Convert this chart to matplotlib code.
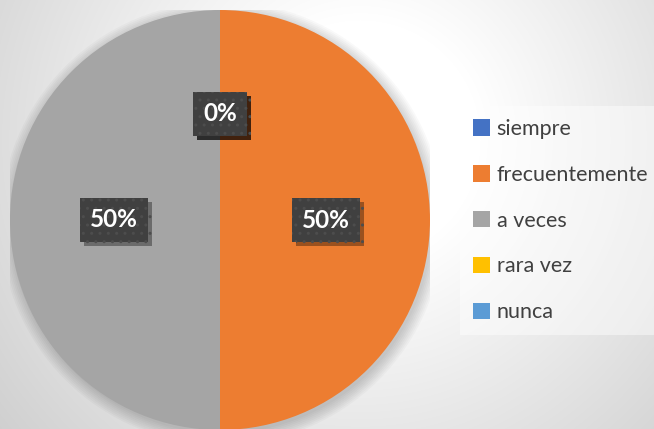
import numpy as np
import matplotlib
matplotlib.use("Agg")
import matplotlib.pyplot as plt
import matplotlib.patheffects as pe
from matplotlib.patches import Patch, Circle

# data
categories = ["siempre", "frecuentemente", "a veces", "rara vez", "nunca"]
values = [0, 50, 50, 0, 0]
colors = ["#4472C4", "#ED7D31", "#A5A5A5", "#FFC000", "#5B9BD5"]

plt.rcParams["font.family"] = ["Lato", "DejaVu Sans"]

W, H = 654, 429
fig = plt.figure(figsize=(W / 100, H / 100), dpi=100)

# soft radial background
bg = fig.add_axes([0, 0, 1, 1], zorder=0)
yy, xx = np.mgrid[0:H, 0:W]
d = np.hypot(xx - 360, yy - 140)
t = np.clip((d - 120) / 350, 0, 1)
shade = 1 - 0.19 * t
bg.imshow(np.dstack([shade] * 3), extent=[0, W, H, 0], aspect="auto")
bg.set_axis_off()

# pie
R = 210
cx, cy = 220, 220
ax = fig.add_axes([(cx - R) / W, (H - cy - R) / H, 2 * R / W, 2 * R / H], zorder=1)
ax.patch.set_alpha(0)

# blurred shadow around the pie
for i in range(8):
    ax.add_patch(Circle((0.01, -0.015), 1.0 + i * 0.008, color="black",
                        alpha=0.025, lw=0, zorder=0))

wedges, texts, autotexts = ax.pie(
    values, colors=colors, startangle=90, counterclock=False,
    autopct="%1.0f%%", pctdistance=0.505, radius=1,
    wedgeprops=dict(linewidth=0),
    textprops=dict(color="white", fontsize=17.5, fontweight="bold"),
)
for at in autotexts:
    at.set_bbox(dict(boxstyle="square,pad=0.42", facecolor="#404040",
                     edgecolor="#4d4d4d", linewidth=0, hatch=".."))
    at.get_bbox_patch().set_path_effects([
        pe.SimplePatchShadow(offset=(3, -3), shadow_rgbFace="black", alpha=0.35),
        pe.Normal(),
    ])
    at.set_zorder(5)
ax.set_xlim(-1, 1)
ax.set_ylim(-1, 1)
ax.set_aspect("equal")

# legend
handles = [Patch(facecolor=c, edgecolor="none") for c in colors]
leg = fig.legend(handles, categories, loc="upper left",
                 bbox_to_anchor=(460 / W, 1 - 106 / H),
                 frameon=True, fancybox=False, fontsize=15.5,
                 handlelength=0.8, handleheight=0.8, handletextpad=0.3,
                 labelspacing=1.2, borderpad=0.6, borderaxespad=0)
leg.get_frame().set_facecolor("white")
leg.get_frame().set_alpha(0.45)
leg.get_frame().set_linewidth(0)
for txt in leg.get_texts():
    txt.set_color("#404040")

fig.savefig("out.png", dpi=100)
